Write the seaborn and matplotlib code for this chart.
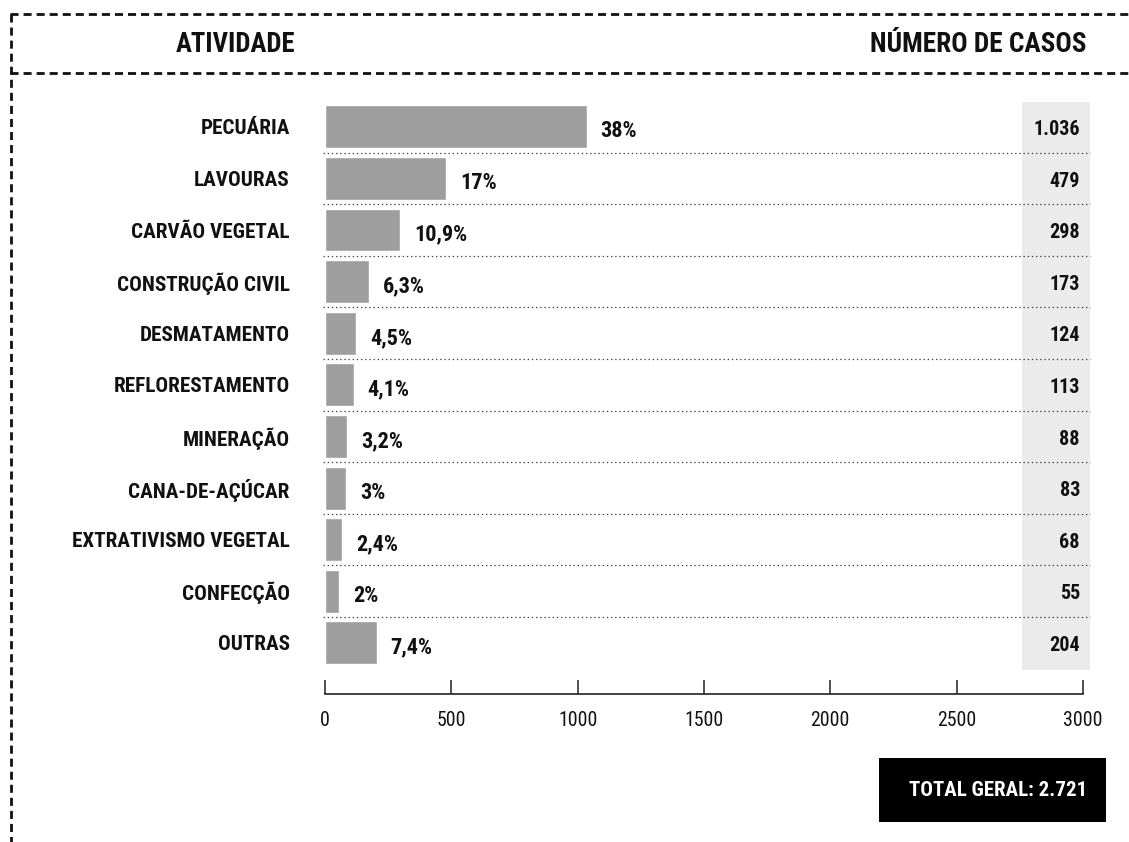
import matplotlib
matplotlib.use("Agg")
import matplotlib.pyplot as plt
import seaborn as sns
import pandas as pd
from matplotlib import font_manager
from matplotlib.patches import Rectangle
from matplotlib.lines import Line2D

# Dados: trabalho escravo por atividade econômica
atividades = [
    "PECUÁRIA", "LAVOURAS", "CARVÃO VEGETAL", "CONSTRUÇÃO CIVIL",
    "DESMATAMENTO", "REFLORESTAMENTO", "MINERAÇÃO", "CANA-DE-AÇÚCAR",
    "EXTRATIVISMO VEGETAL", "CONFECÇÃO", "OUTRAS",
]
casos = [1036, 479, 298, 173, 124, 113, 88, 83, 68, 55, 204]
percentuais = ["38%", "17%", "10,9%", "6,3%", "4,5%", "4,1%", "3,2%", "3%",
               "2,4%", "2%", "7,4%"]
rotulos_casos = ["1.036", "479", "298", "173", "124", "113", "88", "83",
                 "68", "55", "204"]
eixo_x = [0, 500, 1000, 1500, 2000, 2500, 3000]
total_geral = "TOTAL GERAL: 2.721"

sns.set_theme(style="white")
disponiveis = {f.name for f in font_manager.fontManager.ttflist}
fonte = "DejaVu Sans"
for fam in ["Roboto Condensed", "Liberation Sans Narrow", "Roboto"]:
    if fam in disponiveis:
        fonte = fam
        break
plt.rcParams["font.family"] = [fonte, "DejaVu Sans"]
plt.rcParams["lines.scale_dashes"] = False

W, H = 1129, 842
fig = plt.figure(figsize=(W / 100, H / 100), dpi=100)


def fx(px):
    return px / W


def fy(py):
    return 1 - py / H


ax = fig.add_axes([fx(323), fy(694), (1090 - 323) / W, (694 - 100) / H])

df = pd.DataFrame({"atividade": atividades, "casos": casos})
sns.barplot(data=df, x="casos", y="atividade", orient="h", color="#9e9e9e",
            saturation=1, width=0.83, ax=ax, zorder=2)

ax.set_xlim(-8, 3028)
ax.set_ylim(10.99, -0.52)
ax.set_xlabel("")
ax.set_ylabel("")

for s in ["left", "top", "right"]:
    ax.spines[s].set_visible(False)
ax.spines["bottom"].set_bounds(0, 3000)
ax.spines["bottom"].set_linewidth(1.2)
ax.spines["bottom"].set_color("#222222")

ax.set_xticks(eixo_x)
ax.set_xticklabels([str(v) for v in eixo_x])
ax.tick_params(axis="x", bottom=True, direction="in", length=10, width=1.1,
               color="#222222", pad=12, labelsize=14.3, labelcolor="#111111")
ax.set_yticks(range(len(atividades)))
ax.set_yticklabels(atividades, fontweight="bold", fontsize=15.2,
                   color="#111111")
ax.tick_params(axis="y", left=False, length=0, pad=24)

# coluna de fundo com o número de casos
ax.add_patch(Rectangle((2759, -0.48), 3028 - 2759, 11.0, facecolor="#ebebeb",
                       edgecolor="none", zorder=0, clip_on=False))

for i, (v, p, r) in enumerate(zip(casos, percentuais, rotulos_casos)):
    ax.text(v + 55, i + 0.09, p, ha="left", va="center", fontweight="bold",
            fontsize=16, color="#111111", zorder=3)
    ax.text(2988, i + 0.05, r, ha="right", va="center", fontweight="bold",
            fontsize=14.5, color="#111111", zorder=3)

# linhas pontilhadas entre as categorias
for i in range(len(atividades) - 1):
    ax.plot([-8, 3028], [i + 0.5, i + 0.5], linestyle=(0, (1, 2)),
            linewidth=0.9, color="#444444", clip_on=False, zorder=1)

# moldura tracejada do cabeçalho
tracejado = dict(color="#111111", linewidth=2.0, linestyle=(0, (5.8, 3.6)),
                 transform=fig.transFigure)
fig.add_artist(Line2D([fx(10), fx(1129)], [fy(14), fy(14)], **tracejado))
fig.add_artist(Line2D([fx(10), fx(1129)], [fy(73), fy(73)], **tracejado))
fig.add_artist(Line2D([fx(11), fx(11)], [fy(14), fy(842)], **tracejado))

fig.text(fx(295), fy(45), "ATIVIDADE", ha="right", va="center",
         fontweight="bold", fontsize=19.2, color="#111111")
fig.text(fx(1087), fy(45), "NÚMERO DE CASOS", ha="right", va="center",
         fontweight="bold", fontsize=19.6, color="#111111")

# caixa do total geral
fig.add_artist(Rectangle((fx(879), fy(822)), (1106 - 879) / W, (822 - 758) / H,
                         transform=fig.transFigure, facecolor="black",
                         edgecolor="none"))
fig.text(fx(998), fy(791), total_geral, ha="center", va="center",
         fontweight="bold", fontsize=15, color="white")

fig.savefig("out.png", dpi=100)
